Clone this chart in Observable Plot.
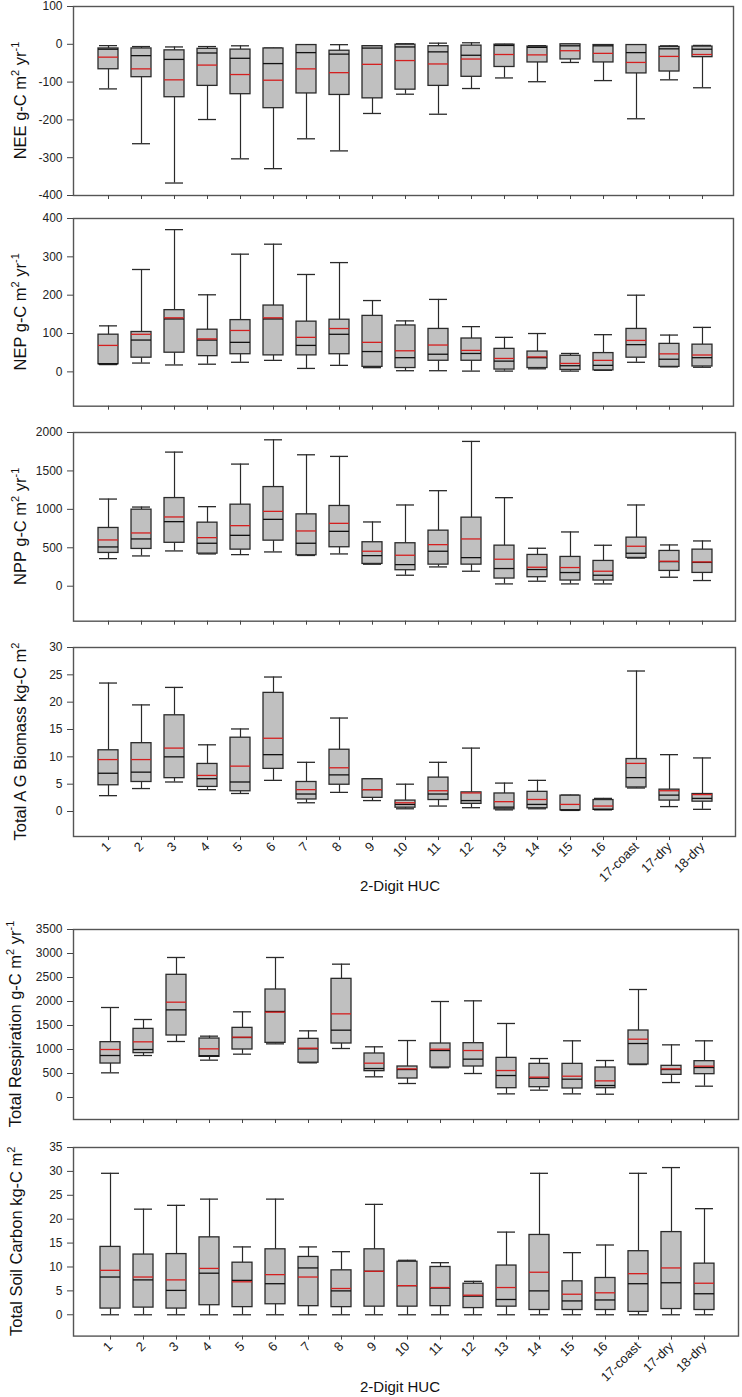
<!DOCTYPE html>
<html><head><meta charset="utf-8">
<script src="https://cdn.jsdelivr.net/npm/d3@7"></script>
<script src="https://cdn.jsdelivr.net/npm/@observablehq/plot@0.6"></script>
<style>
html,body{margin:0;padding:0;background:#fff;overflow:hidden;}
#c{position:relative;width:742px;height:1397px;overflow:hidden;font-family:"Liberation Sans",Arial,sans-serif;}
#c svg{position:absolute;left:0;overflow:visible;}
</style></head><body><div id="c"></div>
<script>
const huc = ["1","2","3","4","5","6","7","8","9","10","11","12","13","14","15","16","17-coast","17-dry","18-dry"];

// NEE g-C m2 yr-1
const neeLow  = [-118,-263,-367,-199,-303,-329,-250,-282,-183,-132,-185,-117,-89,-99,-48,-96,-197,-94,-115];
const neeQ1   = [-66,-87,-140,-110,-132,-169,-130,-134,-143,-120,-110,-86,-60,-48,-40,-48,-77,-72,-34];
const neeMed  = [-13,-30,-40,-23,-37,-51,-22,-26,-10,-7,-20,-29,-3,-8,-4,-4,-22,-12,-13];
const neeQ3   = [-11,-11,-16,-12,-14,-11,-2,-17,-5,-1,-5,-3.5,-1,-6,0,-2,-2,-7,-6];
const neeHigh = [-3.5,-6,-7,-6,-4,-10,-1,-1,-3.5,1.5,3,4,0,-3.5,0,-1,-1,-4,-3];
const neeMean = [-34,-65,-94,-55,-80,-95,-65,-75,-53,-43,-52,-39,-27,-28,-17,-24,-48,-32,-27];

// NEP g-C m2 yr-1
const nepLow  = [19,23,18,20,25,30,9,17,11,3,3,2,2,8,2,4,25,13,12];
const nepQ1   = [20,37,50,41,46,43,43,46,13,10,29,29,6,10,5,4,37,13,14];
const nepMed  = [21,83,138,83,77,138,69,98,53,37,46,48,28,37,16,17,71,33,37];
const nepQ3   = [97,104,161,110,135,173,131,136,146,121,112,87,60,53,42,49,112,73,71];
const nepHigh = [120,267,371,201,307,333,254,285,186,133,189,118,90,100,48,97,200,96,116];
const nepMean = [69,98,141,86,108,141,90,113,77,55,70,56,35,39,22,30,82,47,44];

// NPP g-C m2 yr-1
const nppLow  = [359,394,459,420,411,446,400,420,286,143,251,195,30,65,30,30,366,117,74];
const nppQ1   = [433,485,565,424,476,593,403,507,290,208,281,281,100,117,74,74,368,199,173];
const nppMed  = [511,615,840,559,662,870,559,714,398,281,455,372,230,217,178,143,429,320,310];
const nppQ3   = [758,996,1147,827,1061,1290,935,1044,572,559,723,892,528,407,381,329,632,459,476];
const nppHigh = [1134,1030,1745,1035,1589,1905,1710,1689,836,1057,1243,1884,1152,494,706,533,1057,537,589];
const nppMean = [602,693,901,632,788,974,719,818,455,403,541,615,351,247,243,195,520,325,316];

// Total above-ground biomass kg-C m2
const bioLow  = [2.9,4.2,5.4,4.0,3.3,5.7,1.6,3.5,2.0,0.5,1.0,0.7,0.3,0.5,0.2,0.3,4.3,0.9,0.4];
const bioQ1   = [4.8,5.4,6.1,4.5,3.7,7.8,2.2,4.9,2.5,0.7,2.1,1.4,0.4,0.6,0.2,0.3,4.4,2.0,1.8];
const bioMed  = [7.0,7.2,10.0,6.0,5.4,10.4,3.2,6.7,4.0,1.3,3.2,2.0,0.8,1.3,0.3,0.4,6.2,3.0,2.4];
const bioQ3   = [11.2,12.5,17.6,8.7,13.5,21.7,5.4,11.3,5.9,2.0,6.2,3.5,3.3,3.6,2.9,2.1,9.6,4.0,3.2];
const bioHigh = [23.5,19.5,22.7,12.2,15.1,24.6,9.0,17.1,6.0,5.0,9.0,11.6,5.2,5.7,3.0,2.4,25.7,10.4,9.8];
const bioMean = [9.5,9.5,11.6,6.6,8.3,13.4,4.0,8.0,4.0,1.6,3.8,3.4,1.8,2.2,1.3,1.0,8.8,3.8,3.1];

// Total respiration g-C m2 yr-1
const resLow  = [514,875,1167,778,903,1118,722,1021,431,292,620,500,76,153,76,69,686,312,236];
const resQ1   = [708,924,1292,847,1000,1139,725,1125,549,396,625,646,194,215,188,194,688,472,486];
const resMed  = [875,1000,1826,870,1250,1792,1014,1403,604,583,979,799,458,403,382,250,1125,583,625];
const resQ3   = [1153,1430,2556,1229,1451,2250,1222,2472,917,646,1125,1132,826,701,701,625,1396,660,757];
const resHigh = [1875,1625,2917,1278,1785,2917,1389,2778,1056,1187,2000,2014,1542,812,1181,771,2250,1097,1181];
const resMean = [1000,1160,1986,1014,1257,1778,1028,1743,715,597,1007,979,562,424,444,347,1215,597,653];

// Total soil carbon kg-C m2
const socLow  = [0,0,0,0,0,0,0,0,0,0,0,0,0,0,0,0,0,0,0];
const socQ1   = [1.3,1.5,1.3,2.0,1.6,2.2,1.8,1.6,1.7,1.7,1.8,1.4,1.7,1.0,1.0,1.0,0.6,1.2,1.0];
const socMed  = [7.9,7.3,5.1,8.7,7.2,6.5,9.8,5.0,9.1,6.1,5.6,3.9,3.2,5.0,2.9,3.1,6.5,6.7,4.4];
const socQ3   = [14.2,12.6,12.7,16.2,10.9,13.7,12.1,9.3,13.7,11.1,10.0,6.5,10.3,16.7,7.0,7.7,13.3,17.3,10.7];
const socHigh = [29.6,22.1,22.9,24.2,14.2,24.2,14.2,13.2,23.1,11.4,10.9,7.0,17.3,29.6,13.0,14.6,29.6,30.8,22.2];
const socMean = [9.3,7.9,7.3,9.7,6.9,8.4,7.9,5.5,9.1,6.1,5.7,4.1,5.7,8.9,4.3,4.6,8.6,9.8,6.6];

const xTitle = "2-Digit HUC";

const panels = [
  {label:["NEE g-C m","2"," yr","-1"], data:[neeLow,neeQ1,neeMed,neeQ3,neeHigh,neeMean],
   domain:[-400,100], ticks:[-400,-300,-200,-100,0,100], y0:6, y1:195, x1:733, xFirst:107.3, xLast:702, lx:26, labels:false},
  {label:["NEP g-C m","2"," yr","-1"], data:[nepLow,nepQ1,nepMed,nepQ3,nepHigh,nepMean],
   domain:[-89.5,400], ticks:[0,100,200,300,400], y0:218.3, y1:406, x1:733, xFirst:107.3, xLast:702, lx:26, labels:false},
  {label:["NPP g-C m","2"," yr","-1"], data:[nppLow,nppQ1,nppMed,nppQ3,nppHigh,nppMean],
   domain:[-455,2000], ticks:[0,500,1000,1500,2000], y0:432, y1:620.7, x1:735, xFirst:107.3, xLast:702.3, lx:26, labels:false},
  {label:["Total A G Biomass kg-C m","2"], data:[bioLow,bioQ1,bioMed,bioQ3,bioHigh,bioMean],
   domain:[-4.57,30], ticks:[0,5,10,15,20,25,30], y0:647, y1:836, x1:735, xFirst:107.3, xLast:702.3, lx:26, labels:true, titleY:891},
  {label:["Total Respiration g-C m","2"," yr","-1"], data:[resLow,resQ1,resMed,resQ3,resHigh,resMean],
   domain:[-458,3500], ticks:[0,500,1000,1500,2000,2500,3000,3500], y0:929.3, y1:1119.3, x1:738, xFirst:107.3, xLast:706, lx:21, labels:false},
  {label:["Total Soil Carbon kg-C m","2"], data:[socLow,socQ1,socMed,socQ3,socHigh,socMean],
   domain:[-4.46,35], ticks:[0,5,10,15,20,25,30,35], y0:1146.7, y1:1335.3, x1:738, xFirst:107.3, xLast:706, lx:22, labels:true, titleY:1392}
];

const container = document.getElementById("c");
const FONT = "'Liberation Sans', Arial, sans-serif";

for (const p of panels) {
  const [lo,q1,md,q3,hi,mn] = p.data;
  const rows = huc.map((h,i)=>({huc:h, lo:lo[i], q1:q1[i], md:md[i], q3:q3[i], hi:hi[i], mn:mn[i]}));
  const step = (p.xLast - p.xFirst)/18;
  const mt = 10, mb = p.labels ? 60 : 16;
  const h = (p.y1 - p.y0) + mt + mb;
  const svg = Plot.plot({
    width: 742, height: h,
    marginLeft: 73, marginRight: 742 - p.x1, marginTop: mt, marginBottom: mb,
    style: {fontFamily: FONT, fontSize: "12px", color: "#222", background: "transparent", overflow: "visible"},
    x: {type: "band", domain: huc, range: [p.xFirst - step/2, p.xLast + step/2], paddingInner: 0.4, paddingOuter: 0.2},
    y: {domain: p.domain},
    marks: [
      Plot.ruleX(rows, {x: "huc", y1: "lo", y2: "q1", stroke: "#2a2a2a", strokeWidth: 1.2}),
      Plot.ruleX(rows, {x: "huc", y1: "q3", y2: "hi", stroke: "#2a2a2a", strokeWidth: 1.2}),
      Plot.tickY(rows, {x: "huc", y: "lo", stroke: "#2a2a2a", strokeWidth: 1.3, insetLeft: 1, insetRight: 1}),
      Plot.tickY(rows, {x: "huc", y: "hi", stroke: "#2a2a2a", strokeWidth: 1.3, insetLeft: 1, insetRight: 1}),
      Plot.barY(rows, {x: "huc", y1: "q1", y2: "q3", fill: "#c0c0c0", stroke: "#2a2a2a", strokeWidth: 1.3}),
      Plot.tickY(rows, {x: "huc", y: "md", stroke: "#111", strokeWidth: 1.3}),
      Plot.tickY(rows, {x: "huc", y: "mn", stroke: "#d42020", strokeWidth: 1.3}),
      Plot.frame({stroke: "#555", strokeWidth: 1.4}),
      Plot.axisY({ticks: p.ticks, tickFormat: d => String(d), tickSize: 6, tickPadding: 5, label: null, fontSize: 12, stroke: "#444"}),
      p.labels
        ? Plot.axisX({tickSize: 4, tickPadding: 4, tickRotate: -45, label: null, fontSize: 13, stroke: "#444"})
        : Plot.axisX({tickSize: 4, tickFormat: () => "", label: null, stroke: "#444"})
    ]
  });
  const top = p.y0 - mt;
  svg.style.top = top + "px";
  container.appendChild(svg);
  const s = d3.select(svg);
  const cy = mt + (p.y1 - p.y0)/2;
  const t = s.append("text")
    .attr("transform", `translate(${p.lx},${cy}) rotate(-90)`)
    .attr("text-anchor", "middle")
    .attr("font-family", FONT)
    .attr("font-size", 16.5)
    .attr("fill", "#111");
  p.label.forEach((part, i) => {
    const sup = i % 2 === 1;
    t.append("tspan")
      .attr("font-size", sup ? 11 : 16.5)
      .attr("dy", sup ? -7 : (i > 0 ? 7 : 0))
      .text(part);
  });
  if (p.labels) {
    s.append("text")
      .attr("x", 400).attr("y", p.titleY - top)
      .attr("text-anchor", "middle")
      .attr("font-family", FONT)
      .attr("font-size", 15)
      .attr("fill", "#111")
      .text(xTitle);
  }
}
</script>
</body></html>
